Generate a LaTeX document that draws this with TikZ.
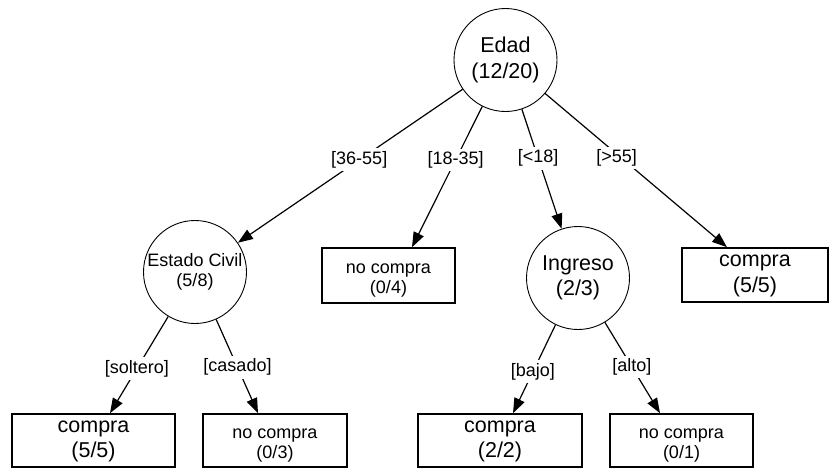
\documentclass[tikz,border=0pt]{standalone}
\usepackage{fontspec}
\setmainfont{Liberation Sans}
\usetikzlibrary{arrows.meta}
\begin{document}
\begin{tikzpicture}[x=1pt,y=-1pt,
  split/.style={circle,draw,line width=0.9pt,minimum size=103pt,inner sep=-8pt,align=center},
  leaf/.style={draw,line width=1.6pt,inner sep=0pt,minimum height=53pt},
  big/.style={font=\fontsize{21.5}{25.5}\selectfont},
  small/.style={font=\fontsize{18}{20.5}\selectfont},
  bigtext/.style={big,align=center,yshift=-1pt},
  smalltext/.style={small,align=center,yshift=-5pt},
  branch/.style={line width=1.2pt,-{Triangle[length=15pt,width=11pt]}},
  cond/.style={fill=white,inner sep=3pt,font=\fontsize{18}{21}\selectfont}]
\useasboundingbox (0,0) rectangle (833,469);

% decision nodes
\node[split,big] (edad) at (505.5,60) {Edad\\(12/20)};
\node[split,small] (civil) at (195,272) {Estado Civil\\(5/8)};
\node[split,big] (ingreso) at (578,278) {Ingreso\\(2/3)};

% leaves
\node[leaf,minimum width=133pt,minimum height=55pt,
  label={[smalltext]center:{no compra\\(0/4)}}] (nc04) at (388.5,275.5) {};
\node[leaf,minimum width=146pt,minimum height=54pt,
  label={[bigtext]center:{compra\\(5/5)}}] (cR) at (755,275) {};
\node[leaf,minimum width=163pt,
  label={[bigtext]center:{compra\\(5/5)}}] (b1) at (93.5,440.5) {};
\node[leaf,minimum width=144pt,
  label={[smalltext]center:{no compra\\(0/3)}}] (b2) at (275,440.5) {};
\node[leaf,minimum width=164pt,
  label={[bigtext]center:{compra\\(2/2)}}] (b3) at (500,440.5) {};
\node[leaf,minimum width=143pt,
  label={[smalltext]center:{no compra\\(0/1)}}] (b4) at (681.5,440.5) {};

% branches from the root
\draw[branch] (edad) -- node[cond,pos=0.46]{[36-55]} (civil);
\draw[branch] (edad) -- node[cond,pos=0.38]{[18-35]} ([xshift=23.5pt]nc04.north);
\draw[branch] (edad) -- node[cond,pos=0.41]{[<18]} (ingreso);
\draw[branch] (edad) -- node[cond,pos=0.42,xshift=-5pt]{[>55]} ([xshift=-28pt]cR.north);

% branches from the second level
\draw[branch] (civil) -- node[cond,pos=0.54]{[soltero]} ([xshift=16.5pt]b1.north);
\draw[branch] (civil) -- node[cond,pos=0.51]{[casado]} ([xshift=-17pt]b2.north);
\draw[branch] (ingreso) -- node[cond,pos=0.53]{[bajo]} ([xshift=13pt]b3.north);
\draw[branch] (ingreso) -- node[cond,pos=0.49]{[alto]} ([xshift=-21.5pt]b4.north);
\end{tikzpicture}
\end{document}
